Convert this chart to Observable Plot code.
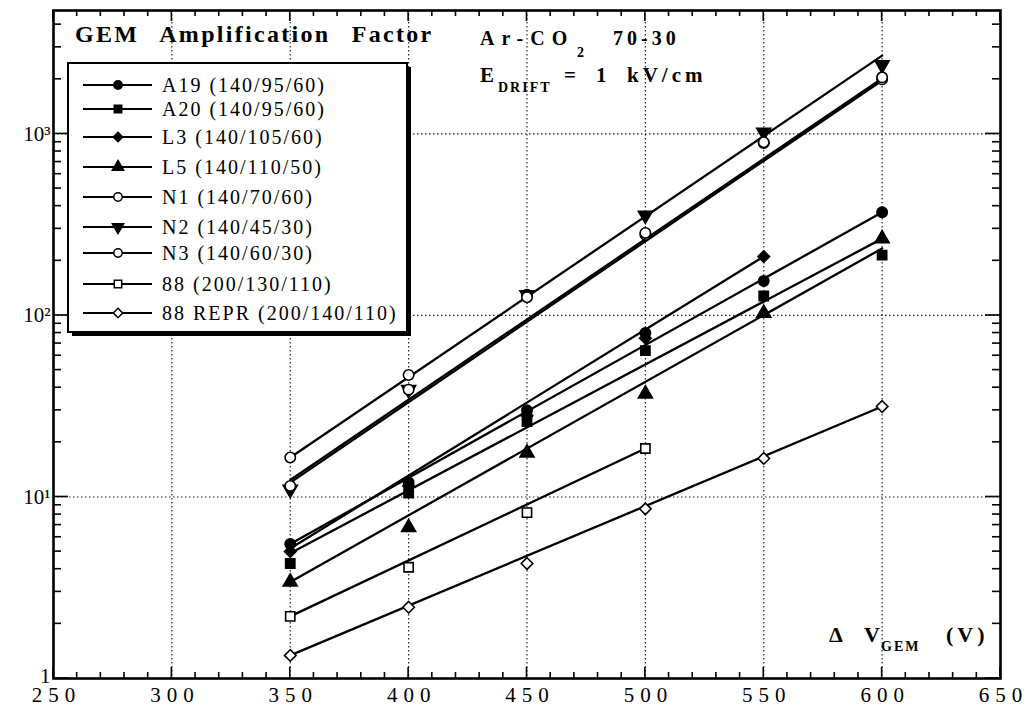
<!DOCTYPE html>
<html><head><meta charset="utf-8">
<script src="https://cdn.jsdelivr.net/npm/d3@7"></script>
<script src="https://cdn.jsdelivr.net/npm/@observablehq/plot@0.6"></script>
<style>
body{margin:0;background:#fff;}
#chart svg{display:block;}
#chart svg text{font-family:"Liberation Serif","Times New Roman",serif;}
#chart svg [aria-label="x-axis tick label"] text{letter-spacing:6px;}
</style></head><body><div id="chart"></div>
<script>
// ---- data ----
const voltages = [350, 400, 450, 500, 550, 600];
const seriesLabels = ["A19 (140/95/60)", "A20 (140/95/60)", "L3 (140/105/60)", "L5 (140/110/50)",
  "N1 (140/70/60)", "N2 (140/45/30)", "N3 (140/60/30)", "88 (200/130/110)", "88 REPR (200/140/110)"];
const gainA19 = [5.5, 12, 30, 80, 155, 370];
const gainA20 = [4.3, 10.5, 26, 64, 128, 215];
const gainL3  = [5.0, 11.5, 28, 75, 211, null];
const gainL5  = [3.4, 6.8, 17.5, 37, 103, 265];
const gainN1  = [16.5, 47, 130, 278, 890, 2000];
const gainN2  = [11, 39, 130, 356, 1020, 2400];
const gainN3  = [11.5, 39, 126, 285, 900, 2050];
const gain88  = [2.2, 4.1, 8.2, 18.5, null, null];
const gain88R = [1.34, 2.47, 4.3, 8.6, 16.3, 31.5];
// straight fit lines: value at the first and at the last measured voltage
const fitStart = [5.5, 4.9, 5.2, 3.4, 12.0, 16.5, 12.4, 2.2, 1.34];
const fitEnd   = [370, 265, 211, 234, 1970, 2700, 2020, 18.5, 31.5];
const xTickValues = [250, 300, 350, 400, 450, 500, 550, 600, 650];
const yTickValues = [1, 10, 100, 1000];
const yTickLabels = ["1", "10\u00B9", "10\u00B2", "10\u00B3"];
const gridVoltages = [300, 350, 400, 450, 500, 550, 600];
const gridGains = [10, 100, 1000];

// ---- styles ----
const seriesGains = [gainA19, gainA20, gainL3, gainL5, gainN1, gainN2, gainN3, gain88, gain88R];
const markerStyle = [
  {symbol: "circle", filled: true, rotate: 0},
  {symbol: "square", filled: true, rotate: 0},
  {symbol: "diamond2", filled: true, rotate: 0},
  {symbol: "triangle", filled: true, rotate: 0},
  {symbol: "circle", filled: false, rotate: 0},
  {symbol: "triangle", filled: true, rotate: 180},
  {symbol: "circle", filled: false, rotate: 0},
  {symbol: "square", filled: false, rotate: 0},
  {symbol: "diamond2", filled: false, rotate: 0}
];

const points = [], fits = [];
seriesLabels.forEach((name, i) => {
  const vs = [];
  seriesGains[i].forEach((g, j) => { if (g != null) { points.push({series: name, i, v: voltages[j], g}); vs.push(voltages[j]); } });
  fits.push({series: name, v: vs[0], g: fitStart[i]}, {series: name, v: vs[vs.length - 1], g: fitEnd[i]});
});

const serif = "Liberation Serif, Times New Roman, serif";
const marks = [
  Plot.ruleX(gridVoltages, {stroke: "#222", strokeWidth: 1.2, strokeDasharray: "1.5,2.5"}),
  Plot.ruleY(gridGains, {stroke: "#222", strokeWidth: 1.2, strokeDasharray: "1.5,2.5"}),
  Plot.line(fits, {x: "v", y: "g", z: "series", stroke: "black", strokeWidth: 2.3})
];
seriesLabels.forEach((name, i) => {
  const st = markerStyle[i];
  marks.push(Plot.dot(points.filter(d => d.i === i), {
    x: "v", y: "g", symbol: st.symbol, r: 5.2, rotate: st.rotate,
    fill: st.filled ? "black" : "white", stroke: "black", strokeWidth: 1.6
  }));
});
marks.push(Plot.frame({stroke: "black", strokeWidth: 2.6}));

const chart = Plot.plot({
  width: 1031, height: 711,
  marginLeft: 53, marginRight: 31, marginTop: 10, marginBottom: 33,
  style: {fontFamily: serif, fontSize: "21px", background: "white", color: "black"},
  x: {domain: [250, 650], ticks: xTickValues, tickSize: 0, tickPadding: 9, label: null, tickFormat: d => String(d)},
  y: {type: "log", domain: [1, 4786], ticks: yTickValues, tickSize: 0, tickPadding: 3, label: null,
      tickFormat: d => yTickLabels[yTickValues.indexOf(d)]},
  marks
});
document.getElementById("chart").appendChild(chart);
d3.select(chart).selectAll('[aria-label="x-axis tick label"] text').attr("dx", 3);
d3.select(chart).selectAll('[aria-label="y-axis tick label"] text').filter(function() { return this.textContent === "1"; }).attr("dy", "-0.12em");

// ---- inward ticks drawn with the plot's own scales ----
const svg = d3.select(chart);
const X = chart.scale("x"), Y = chart.scale("y");
const L = X.apply(250), R = X.apply(650), T = Y.apply(4786), B = Y.apply(1);
const tg = svg.append("g").attr("stroke", "black").attr("stroke-width", 1.6);
for (let v = 250; v <= 650; v += 10) {
  const len = v % 50 === 0 ? 11 : 6, x = X.apply(v);
  tg.append("line").attr("x1", x).attr("x2", x).attr("y1", B).attr("y2", B - len);
  tg.append("line").attr("x1", x).attr("x2", x).attr("y1", T).attr("y2", T + len);
}
for (let d = 1; d <= 1000; d *= 10) {
  for (let k = 1; k <= 9; k++) {
    const val = d * k; if (val > 4786) break;
    const y = Y.apply(val), len = k === 1 ? 15 : 8;
    tg.append("line").attr("x1", L).attr("x2", L + len).attr("y1", y).attr("y2", y);
    tg.append("line").attr("x1", R).attr("x2", R - len).attr("y1", y).attr("y2", y);
  }
}

// ---- legend ----
const lg = svg.append("g").attr("text-anchor", "start");
lg.append("rect").attr("x", 72).attr("y", 67).attr("width", 339).attr("height", 269).attr("fill", "black");
lg.append("rect").attr("x", 68).attr("y", 63).attr("width", 339).attr("height", 269)
  .attr("fill", "white").attr("stroke", "black").attr("stroke-width", 2);
const rowY = [85, 109, 137, 167, 197, 227, 253, 284, 313];
const symType = {circle: d3.symbolCircle, square: d3.symbolSquare, diamond2: d3.symbolDiamond2, triangle: d3.symbolTriangle};
seriesLabels.forEach((name, i) => {
  const st = markerStyle[i], y = rowY[i];
  lg.append("line").attr("x1", 83).attr("x2", 152).attr("y1", y).attr("y2", y).attr("stroke", "black").attr("stroke-width", 2.2);
  lg.append("path").attr("d", d3.symbol(symType[st.symbol], Math.PI * 4.2 * 4.2)())
    .attr("transform", `translate(118,${y}) rotate(${st.rotate})`)
    .attr("fill", st.filled ? "black" : "white").attr("stroke", "black").attr("stroke-width", 1.5);
  lg.append("text").attr("x", 162).attr("y", y).attr("dy", "0.35em")
    .attr("font-size", 20).attr("letter-spacing", "2px").attr("fill", "black").text(name);
});

// ---- annotations ----
const ann = svg.append("g").attr("text-anchor", "start").attr("font-weight", "bold").attr("fill", "black");
ann.append("text").attr("x", 75).attr("y", 42).attr("font-size", 24).attr("letter-spacing", "2.3px")
  .attr("word-spacing", "13px").text("GEM Amplification Factor");
const t1 = ann.append("text").attr("y", 45).attr("font-size", 20);
t1.append("tspan").attr("x", 480).attr("letter-spacing", "7px").text("Ar-CO");
t1.append("tspan").attr("x", 577).attr("y", 57).attr("font-size", 14).text("2");
t1.append("tspan").attr("x", 613).attr("y", 45).attr("letter-spacing", "4px").text("70-30");
const t2 = ann.append("text").attr("y", 82).attr("font-size", 21);
t2.append("tspan").attr("x", 480).text("E");
t2.append("tspan").attr("x", 498).attr("y", 92).attr("font-size", 14).attr("letter-spacing", "2px").text("DRIFT");
t2.append("tspan").attr("x", 564).attr("y", 82).text("=");
t2.append("tspan").attr("x", 596).text("1");
t2.append("tspan").attr("x", 627).attr("letter-spacing", "4px").text("kV/cm");
const t3 = ann.append("text").attr("y", 642).attr("font-size", 22);
t3.append("tspan").attr("x", 829).text("\u0394");
t3.append("tspan").attr("x", 864).text("V");
t3.append("tspan").attr("x", 881).attr("y", 651).attr("font-size", 14).attr("letter-spacing", "2px").text("GEM");
t3.append("tspan").attr("x", 946).attr("y", 642).attr("letter-spacing", "4px").text("(V)");
</script></body></html>
